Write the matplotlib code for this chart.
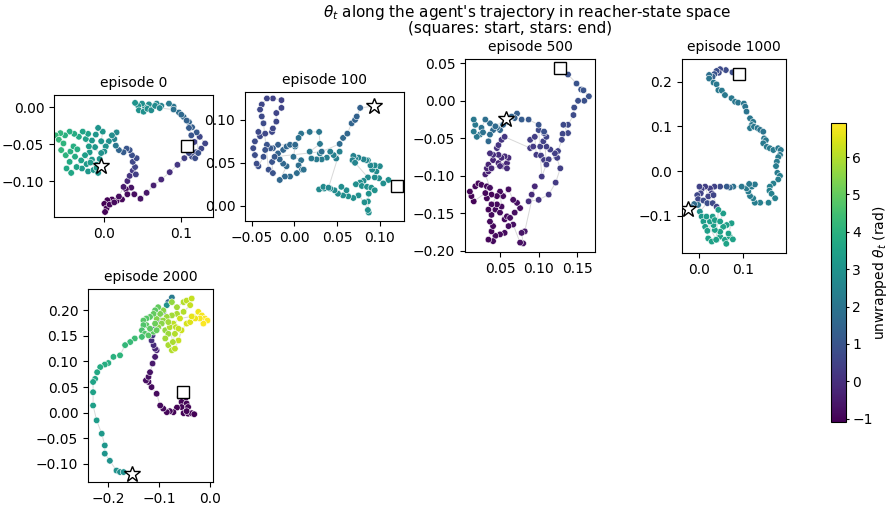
import matplotlib
matplotlib.use("Agg")
import matplotlib.pyplot as plt
import numpy as np

# trajectory points per episode: columns x, y, unwrapped theta (rad)
ep0_pts = np.array([
    [0.108, -0.052, 0.40], [0.117, -0.047, 0.50], [0.124, -0.040, 0.60], [0.131, -0.049, 0.55],
    [0.126, -0.056, 0.60], [0.119, -0.061, 0.70], [0.114, -0.067, 0.75], [0.118, -0.069, 0.80],
    [0.122, -0.062, 0.90], [0.120, -0.034, 1.10], [0.114, -0.027, 1.30], [0.110, -0.020, 1.45],
    [0.103, -0.013, 1.60], [0.097, -0.007, 1.80], [0.090, 0.001, 2.00], [0.084, 0.005, 2.20],
    [0.074, 0.002, 2.45], [0.068, 0.005, 2.60], [0.063, 0.001, 2.70], [0.058, 0.004, 2.80],
    [0.053, 0.000, 2.85], [0.049, 0.005, 2.90], [0.044, 0.002, 3.00], [0.040, 0.006, 3.05],
    [0.045, -0.004, 2.95], [0.051, -0.006, 2.90], [0.056, -0.002, 2.85], [0.061, -0.004, 2.80],
    [0.066, 0.002, 2.75], [0.072, -0.001, 2.60], [0.090, -0.003, 1.90], [0.100, -0.010, 1.60],
    [0.107, -0.018, 1.40], [0.110, -0.028, 1.20], [0.113, -0.038, 1.00], [0.110, -0.062, 0.70],
    [0.104, -0.069, 0.40], [0.095, -0.078, 0.20], [0.085, -0.088, 0.00], [0.074, -0.098, -0.20],
    [0.064, -0.106, -0.40], [0.055, -0.116, -0.60], [0.047, -0.124, -0.70], [0.039, -0.118, -0.80],
    [0.035, -0.109, -0.70], [0.028, -0.111, -0.85], [0.030, -0.118, -0.90], [0.023, -0.125, -0.95],
    [0.016, -0.127, -1.00], [0.010, -0.125, -1.00], [0.004, -0.126, -1.05], [0.000, -0.131, -1.09],
    [0.003, -0.137, -1.05], [0.001, -0.142, -1.00], [0.007, -0.132, -0.95], [0.013, -0.129, -0.90],
    [0.019, -0.121, -0.80], [0.025, -0.108, -0.50], [0.030, -0.100, -0.20], [0.033, -0.093, 0.10],
    [0.037, -0.086, 0.30], [0.041, -0.091, 0.40], [0.040, -0.081, 0.55], [0.037, -0.074, 0.65],
    [0.042, -0.069, 0.75], [0.036, -0.065, 0.85], [0.033, -0.058, 0.95], [0.029, -0.056, 1.05],
    [0.025, -0.061, 1.20], [0.019, -0.058, 1.50], [0.015, -0.052, 2.10], [0.013, -0.043, 2.50],
    [0.016, -0.034, 2.70], [0.010, -0.038, 2.80], [0.006, -0.046, 2.90], [0.002, -0.053, 2.95],
    [0.000, -0.060, 3.00], [-0.004, -0.046, 3.05], [-0.002, -0.033, 3.10], [-0.008, -0.028, 3.05],
    [-0.011, -0.037, 3.10], [-0.016, -0.045, 3.15], [-0.012, -0.054, 3.10], [-0.019, -0.061, 3.20],
    [-0.016, -0.071, 3.15], [-0.023, -0.077, 3.20], [-0.029, -0.083, 3.25], [-0.021, -0.087, 3.15],
    [-0.014, -0.085, 3.10], [-0.008, -0.089, 3.05], [-0.010, -0.078, 3.10], [-0.006, -0.070, 3.05],
    [-0.004, -0.062, 3.00], [-0.020, -0.053, 3.30], [-0.024, -0.043, 3.40], [-0.021, -0.036, 3.45],
    [-0.028, -0.033, 3.55], [-0.033, -0.040, 3.70], [-0.039, -0.036, 3.80], [-0.045, -0.033, 3.90],
    [-0.051, -0.038, 4.00], [-0.057, -0.035, 4.10], [-0.063, -0.038, 4.20], [-0.059, -0.044, 4.20],
    [-0.053, -0.049, 4.10], [-0.056, -0.058, 4.15], [-0.050, -0.065, 4.05], [-0.044, -0.060, 3.95],
    [-0.040, -0.053, 3.90], [-0.035, -0.057, 3.85], [-0.038, -0.067, 3.80], [-0.045, -0.074, 3.75],
    [-0.049, -0.083, 3.70], [-0.043, -0.089, 3.65], [-0.036, -0.081, 3.55], [-0.030, -0.072, 3.45],
    [-0.025, -0.065, 3.35], [-0.018, -0.075, 3.25], [-0.010, -0.082, 3.20], [-0.004, -0.079, 3.15],
])

ep100_pts = np.array([
    [0.120, 0.023, 2.90], [0.110, 0.030, 2.85], [0.104, 0.026, 2.85], [0.099, 0.032, 2.80],
    [0.094, 0.033, 2.80], [0.096, 0.040, 2.75], [0.091, 0.042, 2.75], [0.100, 0.046, 2.70],
    [0.094, 0.047, 2.70], [0.089, 0.047, 2.65], [0.086, 0.053, 2.60], [0.084, 0.053, 2.60],
    [0.081, 0.054, 2.55], [0.075, 0.056, 2.50], [0.071, 0.055, 2.50], [0.069, 0.058, 2.45],
    [0.068, 0.053, 2.50], [0.071, 0.050, 2.55], [0.086, 0.033, 2.75], [0.081, 0.029, 2.80],
    [0.077, 0.027, 2.85], [0.072, 0.025, 2.85], [0.079, 0.023, 2.90], [0.085, 0.022, 2.90],
    [0.090, 0.021, 2.95], [0.094, 0.018, 2.95], [0.087, 0.014, 2.95], [0.086, 0.005, 2.95],
    [0.087, -0.008, 2.90], [0.086, -0.005, 2.90], [0.082, 0.004, 2.90], [0.075, 0.012, 2.85],
    [0.069, 0.009, 2.85], [0.063, 0.011, 2.85], [0.057, 0.012, 2.80], [0.061, 0.018, 2.80],
    [0.055, 0.022, 2.80], [0.051, 0.014, 2.80], [0.047, 0.018, 2.75], [0.042, 0.020, 2.75],
    [0.035, 0.020, 2.75], [0.029, 0.019, 2.70], [0.034, 0.022, 2.70], [0.040, 0.021, 2.65],
    [0.053, 0.063, 2.40], [0.049, 0.055, 2.35], [0.046, 0.059, 2.35], [0.042, 0.063, 2.30],
    [0.038, 0.056, 2.30], [0.032, 0.054, 2.25], [0.030, 0.061, 2.20], [0.026, 0.054, 2.20],
    [0.020, 0.055, 2.15], [0.018, 0.063, 2.10], [0.030, 0.072, 2.10], [0.029, 0.086, 2.05],
    [0.018, 0.086, 2.00], [0.008, 0.084, 1.95], [0.005, 0.079, 1.90], [0.001, 0.069, 1.85],
    [-0.001, 0.057, 1.80], [0.008, 0.053, 1.85], [0.005, 0.047, 1.80], [0.009, 0.042, 1.80],
    [0.011, 0.042, 1.85], [0.003, 0.038, 1.75], [-0.005, 0.034, 1.70], [-0.011, 0.034, 1.60],
    [-0.017, 0.030, 1.55], [-0.009, 0.046, 1.60], [-0.013, 0.049, 1.55], [-0.017, 0.054, 1.50],
    [-0.019, 0.061, 1.45], [-0.013, 0.065, 1.50], [-0.009, 0.069, 1.55], [-0.005, 0.071, 1.60],
    [0.001, 0.071, 1.65], [-0.019, 0.071, 1.30], [-0.025, 0.067, 1.20], [-0.028, 0.067, 1.10],
    [-0.032, 0.071, 1.00], [-0.034, 0.065, 0.95], [-0.036, 0.057, 0.90], [-0.042, 0.046, 0.85],
    [-0.044, 0.049, 0.80], [-0.046, 0.059, 0.80], [-0.048, 0.067, 0.75], [-0.046, 0.075, 0.75],
    [-0.040, 0.081, 0.70], [-0.042, 0.086, 0.70], [-0.034, 0.084, 0.65], [-0.026, 0.086, 0.65],
    [-0.025, 0.090, 0.60], [-0.021, 0.098, 0.60], [-0.021, 0.108, 0.55], [-0.015, 0.114, 0.55],
    [-0.015, 0.123, 0.50], [-0.025, 0.125, 0.50], [-0.032, 0.125, 0.55], [-0.038, 0.118, 0.60],
    [-0.040, 0.112, 0.65], [-0.038, 0.104, 0.70], [-0.036, 0.096, 0.75], [-0.030, 0.042, 0.90],
    [-0.025, 0.038, 0.95], [-0.026, 0.051, 1.00], [-0.023, 0.057, 1.10], [0.032, 0.063, 1.80],
    [0.053, 0.072, 1.70], [0.057, 0.079, 1.60], [0.062, 0.084, 1.55], [0.067, 0.096, 1.50],
    [0.071, 0.100, 1.45], [0.073, 0.104, 1.40], [0.077, 0.114, 1.35], [0.093, 0.116, 1.30],
])

ep500_pts = np.array([
    [0.128, 0.044, 0.90], [0.138, 0.035, 0.90], [0.149, 0.023, 0.95], [0.155, 0.015, 1.00],
    [0.158, 0.014, 1.00], [0.165, 0.006, 0.95], [0.159, 0.000, 0.90], [0.151, 0.000, 0.85],
    [0.146, -0.009, 0.80], [0.145, -0.019, 0.75], [0.138, -0.032, 0.70], [0.132, -0.032, 0.70],
    [0.138, -0.043, 0.65], [0.131, -0.044, 0.60], [0.130, -0.052, 0.55], [0.125, -0.067, 0.50],
    [0.123, -0.075, 0.45], [0.128, -0.090, 0.40], [0.122, -0.109, 0.30], [0.113, -0.125, 0.20],
    [0.100, -0.132, 0.10], [0.087, -0.134, 0.00], [0.091, -0.125, -0.10], [0.095, -0.114, -0.20],
    [0.082, -0.174, -0.60], [0.078, -0.176, -0.65], [0.080, -0.190, -0.70], [0.076, -0.189, -0.75],
    [0.067, -0.165, -0.75], [0.061, -0.167, -0.80], [0.056, -0.176, -0.85], [0.050, -0.178, -0.85],
    [0.044, -0.180, -0.90], [0.041, -0.187, -0.90], [0.035, -0.185, -0.95], [0.039, -0.174, -0.95],
    [0.041, -0.167, -0.90], [0.037, -0.161, -0.90], [0.039, -0.152, -0.85], [0.044, -0.145, -0.85],
    [0.050, -0.149, -0.85], [0.056, -0.158, -0.90], [0.059, -0.154, -0.85], [0.063, -0.156, -0.80],
    [0.069, -0.149, -0.80], [0.076, -0.143, -0.75], [0.072, -0.136, -0.75], [0.067, -0.132, -0.80],
    [0.061, -0.118, -0.80], [0.054, -0.127, -0.85], [0.050, -0.121, -0.85], [0.052, -0.141, -0.85],
    [0.046, -0.138, -0.90], [0.039, -0.138, -0.90], [0.035, -0.145, -0.95], [0.046, -0.127, -0.90],
    [0.039, -0.125, -0.95], [0.033, -0.130, -0.95], [0.031, -0.123, -0.95], [0.016, -0.134, -1.00],
    [0.013, -0.127, -1.00], [0.011, -0.121, -1.00], [0.018, -0.114, -0.95], [0.022, -0.110, -0.95],
    [0.026, -0.112, -0.90], [0.033, -0.114, -0.85], [0.037, -0.116, -0.80], [0.031, -0.098, -0.40],
    [0.035, -0.094, -0.35], [0.033, -0.090, -0.30], [0.035, -0.085, -0.30], [0.041, -0.079, -0.25],
    [0.048, -0.083, -0.25], [0.054, -0.087, -0.20], [0.059, -0.083, -0.20], [0.061, -0.076, -0.15],
    [0.056, -0.074, -0.10], [0.052, -0.076, -0.10], [0.048, -0.072, -0.05], [0.041, -0.072, 0.00],
    [0.037, -0.070, 0.00], [0.039, -0.090, -0.20], [0.050, -0.087, -0.15], [0.059, -0.090, -0.10],
    [0.046, -0.063, 0.05], [0.048, -0.059, 0.10], [0.052, -0.052, 0.15], [0.056, -0.048, 0.20],
    [0.089, -0.063, 0.30], [0.093, -0.061, 0.30], [0.089, -0.052, 0.35], [0.095, -0.048, 0.35],
    [0.097, -0.072, 0.30], [0.103, -0.073, 0.35], [0.107, -0.079, 0.35], [0.113, -0.078, 0.40],
    [0.124, -0.076, 0.40], [0.121, -0.070, 0.40], [0.115, -0.065, 0.45], [0.110, -0.061, 0.45],
    [0.102, -0.061, 0.45], [0.106, -0.054, 0.50], [0.110, -0.048, 0.55], [0.107, -0.043, 0.60],
    [0.100, -0.039, 0.70], [0.104, -0.101, 0.30], [0.110, -0.085, 0.40], [0.107, -0.041, 0.90],
    [0.100, -0.032, 1.00], [0.087, -0.025, 1.10], [0.078, -0.025, 1.20], [0.072, -0.017, 1.30],
    [0.069, -0.023, 1.35], [0.065, -0.021, 1.45], [0.059, -0.028, 1.50], [0.054, -0.032, 1.55],
    [0.050, -0.039, 1.55], [0.046, -0.036, 1.60], [0.041, -0.039, 1.65], [0.037, -0.030, 1.70],
    [0.031, -0.025, 1.80], [0.026, -0.036, 1.90], [0.024, -0.045, 2.00], [0.020, -0.048, 2.10],
    [0.016, -0.041, 2.20], [0.018, -0.032, 2.15], [0.016, -0.025, 2.10], [0.028, -0.042, 1.90],
    [0.037, -0.045, 1.75], [0.035, -0.054, 1.60], [0.044, -0.034, 1.65], [0.058, -0.024, 1.85],
])

ep1000_pts = np.array([
    [0.091, 0.217, 0.80], [0.076, 0.221, 0.80], [0.061, 0.226, 0.75], [0.048, 0.228, 0.70],
    [0.045, 0.220, 0.75], [0.040, 0.224, 0.80], [0.035, 0.217, 1.00], [0.031, 0.211, 1.30],
    [0.023, 0.215, 1.80], [0.023, 0.207, 2.00], [0.033, 0.198, 2.10], [0.040, 0.194, 2.10],
    [0.044, 0.181, 2.15], [0.052, 0.180, 2.15], [0.059, 0.170, 2.15], [0.074, 0.163, 2.10],
    [0.082, 0.155, 2.10], [0.089, 0.153, 2.05], [0.102, 0.151, 2.05], [0.105, 0.144, 2.00],
    [0.108, 0.133, 2.00], [0.116, 0.118, 2.05], [0.123, 0.110, 2.10], [0.120, 0.103, 2.10],
    [0.116, 0.096, 2.15], [0.125, 0.099, 2.10], [0.133, 0.096, 2.05], [0.139, 0.092, 2.00],
    [0.146, 0.088, 2.00], [0.148, 0.073, 2.05], [0.152, 0.069, 2.10], [0.146, 0.062, 2.15],
    [0.154, 0.054, 2.15], [0.161, 0.051, 2.20], [0.169, 0.047, 2.20], [0.180, 0.051, 2.15],
    [0.186, 0.047, 2.15], [0.184, 0.036, 2.15], [0.180, 0.031, 2.20], [0.177, 0.021, 2.20],
    [0.175, 0.011, 2.25], [0.178, -0.004, 2.25], [0.184, -0.011, 2.30], [0.180, -0.019, 2.30],
    [0.169, -0.028, 2.35], [0.161, -0.035, 2.35], [0.160, -0.044, 2.40], [0.165, -0.051, 2.40],
    [0.173, -0.061, 2.45], [0.158, -0.071, 2.40], [0.139, -0.071, 2.35], [0.127, -0.071, 2.30],
    [0.123, -0.061, 2.30], [0.116, -0.056, 2.25], [0.112, -0.046, 2.25], [0.108, -0.039, 2.20],
    [0.120, -0.035, 2.20], [0.127, -0.030, 2.15], [0.114, -0.029, 2.15], [0.097, -0.035, 2.10],
    [0.078, -0.035, 1.90], [0.070, -0.037, 1.60], [0.063, -0.035, 1.20], [0.048, -0.035, 0.70],
    [0.035, -0.035, 0.50], [0.025, -0.039, 0.40], [0.029, -0.050, 0.40], [0.021, -0.057, 0.50],
    [0.014, -0.035, 0.40], [0.006, -0.041, 0.45], [0.001, -0.035, 0.50], [0.004, -0.050, 0.50],
    [-0.004, -0.054, 0.60], [-0.002, -0.063, 0.60], [0.010, -0.066, 0.70], [0.019, -0.072, 0.80],
    [0.031, -0.072, 0.70], [0.040, -0.080, 0.60], [0.033, -0.054, 0.55], [0.002, -0.091, 3.00],
    [0.006, -0.102, 3.20], [0.010, -0.113, 3.30], [0.014, -0.125, 3.35], [0.019, -0.134, 3.40],
    [0.021, -0.151, 3.45], [0.029, -0.158, 3.50], [0.040, -0.154, 3.50], [0.048, -0.147, 3.45],
    [0.059, -0.154, 3.50], [0.062, -0.163, 3.55], [0.070, -0.147, 3.50], [0.077, -0.153, 3.50],
    [0.067, -0.140, 3.45], [0.074, -0.117, 3.40], [0.063, -0.121, 3.40], [0.055, -0.125, 3.45],
    [0.048, -0.136, 3.50], [0.036, -0.132, 3.45], [0.033, -0.121, 3.40], [0.025, -0.113, 3.35],
    [0.017, -0.102, 3.30], [0.031, -0.102, 3.35], [0.036, -0.110, 3.40], [0.048, -0.113, 3.40],
    [0.055, -0.095, 3.35], [0.044, -0.087, 3.30], [0.039, -0.154, 3.50], [-0.002, -0.076, 1.90],
    [-0.011, -0.074, 1.70], [-0.017, -0.081, 1.60], [-0.026, -0.086, 1.60],
])

ep2000_pts = np.array([
    [-0.054, 0.040, -0.90], [-0.059, 0.031, -1.00], [-0.049, 0.027, -0.95], [-0.056, 0.021, -1.00],
    [-0.046, 0.018, -1.00], [-0.043, 0.011, -1.00], [-0.056, 0.011, -1.00], [-0.052, -0.001, -1.05],
    [-0.043, -0.002, -1.05], [-0.036, -0.001, -1.05], [-0.031, -0.003, -1.05], [-0.046, 0.003, -1.00],
    [-0.065, 0.010, -1.00], [-0.072, 0.001, -1.00], [-0.079, 0.003, -0.95], [-0.085, 0.001, -0.95],
    [-0.092, 0.008, -0.90], [-0.098, 0.014, -0.90], [-0.105, 0.037, -0.85], [-0.115, 0.050, -0.85],
    [-0.121, 0.060, -0.80], [-0.126, 0.063, -0.80], [-0.121, 0.070, -0.75], [-0.118, 0.079, -0.70],
    [-0.113, 0.096, -0.55], [-0.108, 0.109, -0.45], [-0.105, 0.122, -0.35], [-0.108, 0.125, -0.25],
    [-0.111, 0.132, -0.15], [-0.115, 0.141, 0.00], [-0.113, 0.151, 0.20], [-0.108, 0.164, 0.50],
    [-0.098, 0.180, 1.00], [-0.092, 0.197, 1.30], [-0.082, 0.216, 1.60], [-0.075, 0.225, 2.20],
    [-0.085, 0.210, 3.00], [-0.075, 0.216, 5.60], [-0.065, 0.206, 5.80], [-0.052, 0.216, 6.00],
    [-0.046, 0.219, 6.10], [-0.036, 0.223, 6.20], [-0.039, 0.210, 6.20], [-0.052, 0.197, 6.00],
    [-0.065, 0.193, 5.90], [-0.075, 0.190, 5.80], [-0.085, 0.187, 5.70], [-0.092, 0.180, 5.60],
    [-0.095, 0.174, 5.50], [-0.105, 0.184, 5.40], [-0.102, 0.167, 5.50], [-0.088, 0.161, 5.60],
    [-0.082, 0.154, 5.70], [-0.088, 0.145, 5.80], [-0.082, 0.132, 5.90], [-0.075, 0.122, 6.00],
    [-0.069, 0.125, 6.10], [-0.062, 0.141, 6.20], [-0.056, 0.161, 6.30], [-0.046, 0.174, 6.40],
    [-0.039, 0.177, 6.50], [-0.033, 0.187, 6.60], [-0.023, 0.197, 6.70], [-0.016, 0.190, 6.80],
    [-0.010, 0.184, 6.85], [-0.005, 0.180, 6.91], [-0.013, 0.174, 6.85], [-0.020, 0.184, 6.80],
    [-0.029, 0.184, 6.70], [-0.036, 0.188, 6.60], [-0.059, 0.184, 6.30], [-0.072, 0.174, 6.10],
    [-0.079, 0.167, 6.00], [-0.067, 0.167, 6.10], [-0.062, 0.164, 6.20], [-0.069, 0.154, 6.00],
    [-0.073, 0.138, 5.90], [-0.082, 0.177, 5.80], [-0.092, 0.200, 5.50], [-0.098, 0.193, 5.30],
    [-0.102, 0.206, 5.00], [-0.108, 0.200, 4.90], [-0.111, 0.193, 5.00], [-0.118, 0.187, 4.90],
    [-0.125, 0.184, 4.80], [-0.131, 0.180, 4.80], [-0.125, 0.171, 4.90], [-0.131, 0.171, 4.70],
    [-0.134, 0.161, 4.60], [-0.128, 0.154, 4.70], [-0.121, 0.151, 4.80], [-0.111, 0.158, 4.90],
    [-0.105, 0.161, 5.00], [-0.108, 0.174, 5.10], [-0.118, 0.164, 4.90], [-0.134, 0.148, 4.50],
    [-0.148, 0.145, 4.40], [-0.157, 0.138, 4.30], [-0.167, 0.132, 4.20], [-0.177, 0.112, 4.10],
    [-0.190, 0.109, 4.00], [-0.200, 0.097, 3.90], [-0.207, 0.094, 3.85], [-0.216, 0.089, 3.80],
    [-0.222, 0.079, 3.70], [-0.226, 0.066, 3.60], [-0.230, 0.060, 3.55], [-0.230, 0.040, 3.50],
    [-0.230, 0.014, 3.40], [-0.223, -0.015, 3.30], [-0.213, -0.041, 3.20], [-0.207, -0.064, 3.10],
    [-0.207, -0.080, 3.05], [-0.197, -0.094, 3.00], [-0.184, -0.113, 2.95], [-0.177, -0.116, 2.90],
    [-0.170, -0.116, 2.90], [-0.153, -0.120, 2.90],
])

episodes = [0, 100, 500, 1000, 2000]
all_pts = [ep0_pts, ep100_pts, ep500_pts, ep1000_pts, ep2000_pts]

W, H = 891, 505
# axes boxes in pixels: left, right, top, bottom
boxes = [(54, 213, 95, 217), (245, 404, 92, 221), (465, 595, 59, 252),
         (682, 786, 59, 253), (88, 213, 289, 482)]
lims = [((-0.0653, 0.1412), (-0.1488, 0.0167)),
        ((-0.0576, 0.1282), (-0.0178, 0.1325)),
        ((0.0047, 0.1729), (-0.2015, 0.0557)),
        ((-0.0386, 0.1977), (-0.1836, 0.2508)),
        ((-0.2400, 0.0059), (-0.1354, 0.2416))]
xticks = [[0.0, 0.1], [-0.05, 0.0, 0.05, 0.10], [0.05, 0.10, 0.15], [0.0, 0.1], [-0.2, -0.1, 0.0]]
yticks = [[-0.10, -0.05, 0.0], [0.0, 0.05, 0.10], [-0.20, -0.15, -0.10, -0.05, 0.0, 0.05],
          [-0.1, 0.0, 0.1, 0.2], [-0.10, -0.05, 0.0, 0.05, 0.10, 0.15, 0.20]]

vmin = min(p[:, 2].min() for p in all_pts)
vmax = max(p[:, 2].max() for p in all_pts)
norm = plt.Normalize(vmin, vmax)

fig = plt.figure(figsize=(W / 100, H / 100), dpi=100)

for k, pts in enumerate(all_pts):
    l, r, t, b = boxes[k]
    ax = fig.add_axes([l / W, (H - b) / H, (r - l) / W, (b - t) / H])
    ax.plot(pts[:, 0], pts[:, 1], color='0.75', lw=0.7, alpha=0.6, zorder=1)
    sc = ax.scatter(pts[:, 0], pts[:, 1], c=pts[:, 2], cmap='viridis', norm=norm,
                    s=22, edgecolors='white', linewidths=0.4, zorder=2)
    ax.plot(pts[0, 0], pts[0, 1], marker='s', ms=8, mfc='white', mec='black', mew=1, ls='none', zorder=3)
    ax.plot(pts[-1, 0], pts[-1, 1], marker='*', ms=12, mfc='white', mec='black', mew=1, ls='none', zorder=3)
    ax.set_xlim(lims[k][0])
    ax.set_ylim(lims[k][1])
    ax.set_xticks(xticks[k])
    ax.set_yticks(yticks[k])
    ax.set_title('episode %d' % episodes[k], fontsize=10)

cax = fig.add_axes([831 / W, (H - 422) / H, 15 / W, 299 / H])
cb = fig.colorbar(sc, cax=cax)
cb.ax.tick_params(length=2.5, pad=2)
cb.set_label(r'unwrapped $\theta_t$ (rad)')
cb.ax.yaxis.set_label_coords(2.65, 0.5)

# title, two lines
fig.text(527 / W, 1 - 17 / H, "$\\theta_t$ along the agent's trajectory in reacher-state space",
         ha='center', va='baseline', fontsize=11)
fig.text(510.5 / W, 1 - 33 / H, "(squares: start, stars: end)",
         ha='center', va='baseline', fontsize=11)

fig.savefig('out.png', dpi=100)
